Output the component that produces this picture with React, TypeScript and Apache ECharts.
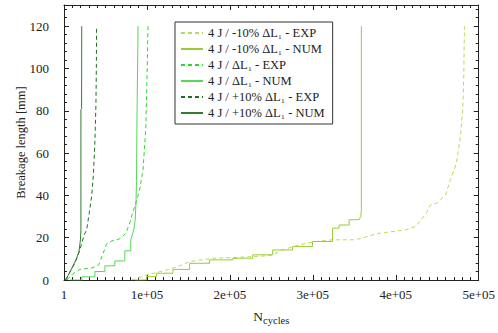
import React, { useEffect, useRef } from "react";
import * as echarts from "echarts";

// Crack propagation: breakage length vs number of cycles (4 J impact)
const seriesNames = [
  "4 J / -10% ΔL₁ - EXP",
  "4 J / -10% ΔL₁ - NUM",
  "4 J / ΔL₁ - EXP",
  "4 J / ΔL₁ - NUM",
  "4 J / +10% ΔL₁ - EXP",
  "4 J / +10% ΔL₁ - NUM",
];

const minus10ExpN = [81400, 99400, 123400, 139400, 151400, 179400, 203500, 243600, 251600, 263600, 283700, 303700, 323700, 349800, 359700, 375800, 387900, 411900, 423900, 435900, 441900, 449900, 460000, 466000, 473200, 478000, 480800, 482000, 482800];
const minus10ExpL = [0, 2.4, 4.7, 6.6, 8.7, 10.3, 10.6, 11.4, 11.9, 14.2, 16.6, 18.2, 19, 19, 19.8, 21.8, 22.5, 23.7, 25.3, 31, 35.6, 36.4, 40.3, 47.4, 55.3, 68, 80.6, 96.4, 120];

const minus10NumN = [85300, 99400, 99400, 111400, 111400, 131400, 131400, 151400, 151400, 175500, 175500, 203500, 203500, 227500, 227500, 251600, 251600, 275600, 275600, 299600, 299600, 323700, 323700, 331700, 331700, 343800, 343800, 355800, 357800, 358500, 358500];
const minus10NumL = [0, 0, 1.6, 1.6, 3.2, 3.2, 5, 5, 7.9, 7.9, 9.5, 9.5, 10.3, 10.3, 11.9, 11.9, 14.2, 14.2, 15.8, 15.8, 18.2, 18.2, 24.5, 24.5, 26, 26, 28.5, 28.5, 30, 33, 120];

const baseExpN = [3600, 10800, 19200, 33700, 41700, 45700, 51300, 57700, 67300, 74500, 79300, 82900, 86500, 91300, 95300, 98600, 100100, 101300];
const baseExpL = [0, 3, 5, 5.7, 7, 11, 17, 18.5, 19.5, 22, 27, 32, 36, 43, 52, 72, 96, 120];

const baseNumN = [7200, 21600, 21600, 37300, 37300, 49300, 49300, 61300, 61300, 73300, 73300, 80500, 80500, 84100, 85900, 86900, 87400, 88100, 89300];
const baseNumL = [0, 0, 1.5, 1.5, 4, 4, 6.7, 6.7, 9, 9, 13.8, 13.8, 19, 23.7, 28.5, 38, 47, 80.6, 120];

const plus10ExpN = [2400, 7200, 13200, 19200, 24000, 27300, 30600, 33300, 35500, 37300, 38500, 39000, 39300];
const plus10ExpL = [0, 3.8, 8, 14.2, 21, 23.7, 32, 39.5, 50, 66, 83, 100, 120];

const plus10NumN = [1200, 4800, 9600, 14400, 18000, 19800, 20400, 20400, 21200, 21400];
const plus10NumL = [0, 2, 5.7, 9.5, 13.3, 19, 23.7, 80.6, 81, 120];

const xTicks = ["1", "1e+05", "2e+05", "3e+05", "4e+05", "5e+05"];
const yTicks = [0, 20, 40, 60, 80, 100, 120];

const colors = ["#b3de52", "#99cc33", "#2fd62f", "#55d855", "#1f6f1f", "#2f7f2f"];
const dashed = [true, false, true, false, true, false];

const zip = (n: number[], l: number[]) => n.map((v, i) => [v, l[i]]);
const allData = [
  zip(minus10ExpN, minus10ExpL),
  zip(minus10NumN, minus10NumL),
  zip(baseExpN, baseExpL),
  zip(baseNumN, baseNumL),
  zip(plus10ExpN, plus10ExpL),
  zip(plus10NumN, plus10NumL),
];

const FONT = "'Liberation Serif', 'DejaVu Serif', serif";

export default function App() {
  const ref = useRef<HTMLDivElement>(null);

  useEffect(() => {
    if (!ref.current) return;
    const chart = echarts.init(ref.current, undefined, { renderer: "svg" });

    const axisLine = { show: true, onZero: false, lineStyle: { color: "#222", width: 1 } };
    const tick = { show: true, inside: true, length: 5, lineStyle: { color: "#222" } };
    const minor = (n: number) => ({ show: true, splitNumber: n, length: 3, lineStyle: { color: "#222" } });

    chart.setOption({
      animation: false,
      backgroundColor: "#fff",
      grid: { left: 64, right: 18, top: 5, bottom: 53 },
      legend: {
        orient: "vertical",
        left: 175,
        top: 22,
        padding: [4, 8, 4, 5],
        itemGap: 2,
        itemWidth: 22,
        itemHeight: 10,
        backgroundColor: "#fff",
        borderColor: "#333",
        borderWidth: 1,
        borderRadius: 0,
        itemStyle: { opacity: 0 },
        textStyle: { fontFamily: FONT, fontSize: 12.5, color: "#222", lineHeight: 14 },
        data: seriesNames,
      },
      xAxis: [
        {
          type: "value",
          position: "bottom",
          min: 0,
          max: 500000,
          interval: 100000,
          axisLine,
          axisTick: tick,
          minorTick: minor(10),
          splitLine: { show: false },
          axisLabel: {
            margin: 8,
            fontFamily: FONT,
            fontSize: 13,
            color: "#222",
            formatter: (v: number) => xTicks[Math.round(v / 100000)],
          },
          name: "{n|N}{s|cycles}",
          nameLocation: "middle",
          nameGap: 29,
          nameTextStyle: {
            fontFamily: FONT,
            color: "#222",
            rich: {
              n: { fontFamily: FONT, fontSize: 13.5, color: "#222", lineHeight: 16, verticalAlign: "top" },
              s: { fontFamily: FONT, fontSize: 10.5, color: "#222", lineHeight: 16, verticalAlign: "bottom", padding: [9, 0, 0, 0] },
            },
          },
        },
        {
          type: "value",
          position: "top",
          min: 0,
          max: 500000,
          interval: 100000,
          axisLine,
          axisTick: tick,
          minorTick: minor(10),
          splitLine: { show: false },
          axisLabel: { show: false },
        },
      ],
      yAxis: [
        {
          type: "value",
          position: "left",
          min: 0,
          max: 130,
          interval: 20,
          axisLine,
          axisTick: tick,
          minorTick: minor(5),
          splitLine: { show: false },
          axisLabel: {
            margin: 15,
            fontFamily: FONT,
            fontSize: 13,
            color: "#222",
            showMaxLabel: false,
            formatter: (v: number) => (yTicks.includes(v) ? String(v) : ""),
          },
          name: "Breakage length [mm]",
          nameLocation: "middle",
          nameGap: 37,
          nameMoveOverlap: false,
          nameTextStyle: { fontFamily: FONT, fontSize: 12.5, color: "#222" },
        },
        {
          type: "value",
          position: "right",
          min: 0,
          max: 130,
          interval: 20,
          axisLine,
          axisTick: tick,
          minorTick: minor(5),
          splitLine: { show: false },
          axisLabel: { show: false },
        },
      ],
      series: seriesNames.map((name, i) => ({
        name,
        type: "line",
        xAxisIndex: 0,
        yAxisIndex: 0,
        data: allData[i],
        symbol: "none",
        showSymbol: false,
        color: colors[i],
        lineStyle: {
          color: colors[i],
          width: 1,
          type: dashed[i] ? [4, 3] : "solid",
        },
      })),
    });

    return () => chart.dispose();
  }, []);

  return (
    <div
      ref={ref}
      style={{ position: "absolute", left: 0, top: 0, width: 498, height: 333 }}
    />
  );
}
